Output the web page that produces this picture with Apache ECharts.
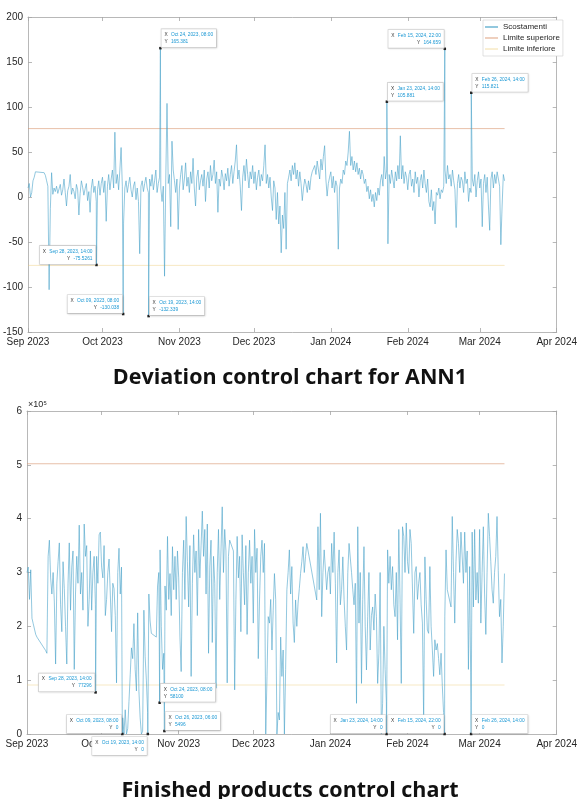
<!DOCTYPE html>
<html><head><meta charset="utf-8">
<script src="https://cdn.jsdelivr.net/npm/echarts@6/dist/echarts.min.js"></script>
<style>html,body{margin:0;padding:0;background:#fff}#c{width:580px;height:799px}</style>
</head><body><div id="c"></div>
<script>
// ---------------- DATA ----------------
const seriesStart = '2023-09-01 00:00';
const stepHours = 12;
const monthTicks = ['2023-09-01','2023-10-01','2023-11-01','2023-12-01','2024-01-01','2024-02-01','2024-03-01','2024-04-01'];
const monthLabels = ['Sep 2023','Oct 2023','Nov 2023','Dec 2023','Jan 2024','Feb 2024','Mar 2024','Apr 2024'];

// Deviation (Scostamenti), one value every 12 h from seriesStart
const deviation = [
 10,15,0,5,18,22,28,null,null,null,
 null,null,null,27,24,18,12,-103,-13,27,
 3,10,6,12,4,9,14,2,8,20,
 5,-10,7,12,25,3,10,6,-2,14,
 8,-20,4,18,11,2,9,15,-4,6,
 -17,10,20,5,12,-5,8,18,2,15,
 22,5,18,-27,12,25,8,20,30,10,
 72,15,25,8,30,55,12,-29,10,18,
 5,14,22,8,0,12,17,-3,10,-5,
 -63,12,18,6,15,22,10,5,20,12,
 25,8,18,30,5,15,22,10,-5,12,
 -88,20,104,15,25,-33,62,30,18,5,
 20,-36,10,25,35,8,20,38,12,22,
 5,28,15,43,10,-10,22,30,8,18,
 25,12,30,-5,20,28,10,35,18,25,
 41,15,28,-17,20,12,30,22,8,26,
 18,32,12,25,35,15,28,40,58,20,
 30,12,-15,22,35,18,42,25,10,28,
 20,35,15,28,8,22,30,12,25,18,
 35,58,15,25,10,22,0,-15,18,10,
 -25,5,-30,-10,-62,-20,-35,5,-58,15,
 22,30,18,35,25,38,20,30,12,28,
 15,-4,10,20,14,5,18,8,22,28,
 30,35,25,40,30,20,42,30,45,57,
 20,1,15,22,28,10,23,5,18,12,
 -58,10,20,15,30,25,40,35,50,73,
 35,45,30,40,28,38,25,32,20,30,
 25,15,20,6,12,-2,8,-5,3,-11,
 5,-4,10,2,18,25,12,45,20,30,
 -52,25,15,30,20,10,28,18,35,20,
 68,20,35,15,28,22,8,25,30,12,
 20,5,28,15,22,0,18,25,10,30,
 15,5,20,-5,-11,8,-15,-5,-30,5,
 2,10,-2,8,5,12,30,15,35,20,
 25,12,30,18,8,-34,15,25,10,22,
 18,5,28,15,20,-5,10,5,20,12,
 25,0,18,28,10,20,-33,15,25,5,
 22,-10,-37,20,28,10,25,15,28,20,
 12,-53,-10,25,18
];
const deviationUpper = 76;
const deviationLower = -76;
const deviationTipTimes = ['2023-09-28 14:00','2023-10-09 08:00','2023-10-19 14:00','2023-10-24 08:00','2024-01-23 14:00','2024-02-15 22:00','2024-02-26 14:00'];
const deviationTipValues = [-75.5261,-130.038,-132.339,165.381,105.881,164.659,115.821];
const deviationYTicks = [-150,-100,-50,0,50,100,150,200];

// Finished products, in thousands of units, one value every 12 h from seriesStart
const productionThousands = [
 300,310,250,305,215,205,195,185,180,null,
 null,null,null,null,null,155,150,330,360,290,
 260,300,245,130,280,320,355,240,190,320,
 270,200,130,280,355,230,310,340,120,260,
 330,280,388,260,300,230,390,330,350,200,
 250,340,230,300,330,240,330,280,370,375,
 310,290,350,220,250,300,325,260,190,280,
 270,220,95,300,345,260,310,30,0,45,
 0,10,60,110,160,140,205,120,80,225,
 80,30,0,5,230,144,100,40,260,210,
 187,null,null,null,180,275,300,342,200,120,
 150,275,230,367,250,298,220,348,268,330,
 250,340,290,180,116,300,360,250,404,320,
 236,350,107,280,370,300,340,220,380,290,
 350,414,330,380,260,390,150,310,360,170,
 330,280,85,300,380,250,340,422,300,380,
 340,95,330,360,null,null,340,82,250,367,
 290,330,190,370,300,240,350,185,300,360,
 280,330,206,380,300,345,140,249,330,360,
 300,354,0,107,218,206,250,156,230,298,
 250,0,40,26,180,107,156,0,120,268,
 300,342,260,311,206,170,249,200,243,270,
 298,320,348,300,330,354,null,null,null,null,
 null,null,null,249,385,268,410,218,300,342,
 342,268,300,311,260,354,300,375,280,132,
 300,342,240,268,329,250,200,156,300,354,
 357,300,268,240,280,57,385,206,300,94,
 250,348,200,119,218,300,156,220,236,193,
 260,218,94,150,300,0,57,200,120,60,
 342,280,330,268,311,240,218,300,175,380,
 250,94,385,367,300,392,320,298,380,354,
 354,187,300,311,250,280,300,240,206,26,
 329,250,193,187,311,200,156,107,175,156,
 168,140,110,150,90,40,218,342,268,null,
 null,236,404,300,206,320,380,354,300,375,
 329,280,375,300,340,120,311,60,375,236,
 380,249,300,243,380,206,300,385,260,185,
 300,410,367,320,268,243,300,330,404,304,
 218,250,132,200,298
];
const productionUpper = 502000;
const productionLower = 91000;
const productionTipTimes = ['2023-09-28 14:00','2023-10-09 08:00','2023-10-19 14:00','2023-10-24 08:00','2023-10-26 06:00','2024-01-23 14:00','2024-02-15 22:00','2024-02-26 14:00'];
const productionTipValues = [77296,0,0,58100,5496,0,0,0];
const productionYTicks = [0,100000,200000,300000,400000,500000,600000];

// ---------------- STYLE / LAYOUT ----------------
const deviationTipSide = ['left','left','right','right','right','left','right'];
const productionTipSide = ['left','left','leftDown','right','right','left','left','right'];
const MON = ['Jan','Feb','Mar','Apr','May','Jun','Jul','Aug','Sep','Oct','Nov','Dec'];
const FONT = 'Liberation Sans';
const AXC = '#a6a6a6';
const LINEC = '#4aa3c9';
const UPC = 'rgba(217,150,110,0.75)';
const LOC = 'rgba(237,205,120,0.55)';

function ts(s){
  const [d,t] = s.split(' ');
  const [y,m,dd] = d.split('-').map(Number);
  const [hh,mm] = (t||'00:00').split(':').map(Number);
  return new Date(y,m-1,dd,hh,mm).getTime();
}
function pad(n){return (n<10?'0':'')+n;}
function tipX(s){
  const d = new Date(ts(s));
  return MON[d.getMonth()]+' '+pad(d.getDate())+', '+d.getFullYear()+', '+pad(d.getHours())+':'+pad(d.getMinutes());
}
function build(values, scale, tipTimes, tipValues){
  const t0 = ts(seriesStart);
  const pts = values.map((v,i)=>[t0+i*stepHours*3600e3, v===null?'-':v*scale]);
  tipTimes.forEach((t,i)=>pts.push([ts(t), tipValues[i]]));
  pts.sort((a,b)=>a[0]-b[0]);
  return pts;
}
const monthTs = monthTicks.map(ts);
const devData = build(deviation, 1, deviationTipTimes, deviationTipValues);
const prodData = build(productionThousands, 1000, productionTipTimes, productionTipValues);
const tFirst = devData[0][0];
const tLastDev = devData[devData.length-1][0];
const tLastProd = prodData[prodData.length-1][0];

function tipLabel(side){
  const base = {
    show:true, position:[1.25,1.25], backgroundColor:'#fff', borderColor:'#cdcdcd', borderWidth:0.6,
    padding:[2,3,2,3], lineHeight:7, fontFamily:FONT,
    shadowColor:'rgba(0,0,0,0.12)', shadowBlur:2, shadowOffsetX:0.5, shadowOffsetY:0.5,
    rich:{k:{color:'#333',fontSize:4.8,fontFamily:FONT,lineHeight:7},v:{color:'#1b98d4',fontSize:4.8,fontFamily:FONT,lineHeight:7}}
  };
  if(side==='left'){ base.align='right'; base.verticalAlign='bottom'; base.offset=[-1,-1]; }
  else if(side==='right'){ base.align='left'; base.verticalAlign='bottom'; base.offset=[1,-1]; }
  else { base.align='right'; base.verticalAlign='top'; base.offset=[-1,3]; }
  return base;
}
function tips(times, values, sides){
  return times.map((t,i)=>{
    const lab = tipLabel(sides[i]);
    lab.formatter = '{k|X} {v|'+tipX(t)+'}\n{k|Y} {v|'+values[i]+'}';
    return {coord:[ts(t), values[i]], value: values[i], label: lab};
  });
}

const grids = [
  {left:26, top:17, width:537, height:315},
  {left:27, top:411, width:534, height:323}
];

function xAxes(gi){
  const common = {type:'value', gridIndex:gi, min:monthTs[0], max:monthTs[monthTs.length-1],
    splitLine:{show:false}};
  return [
    Object.assign({}, common, {position:'bottom',
      axisLine:{onZero:false, lineStyle:{color:AXC,width:0.8}},
      axisTick:{inside:true,length:4,customValues:monthTs,lineStyle:{color:AXC,width:0.8}},
      axisLabel:{customValues:monthTs, showMinLabel:true, showMaxLabel:true, hideOverlap:false,
        formatter:(v)=>{const i=monthTs.indexOf(v); return i<0?'':monthLabels[i];}, color:'#262626', fontSize:10, fontFamily:FONT, margin:5}}),
    Object.assign({}, common, {position:'top',
      axisLine:{onZero:false, lineStyle:{color:AXC,width:0.8}},
      axisTick:{inside:true,length:4,customValues:monthTs,lineStyle:{color:AXC,width:0.8}},
      axisLabel:{show:false}})
  ];
}
function yAxes(gi, ticks, fmt, name){
  const common = {type:'value', gridIndex:gi, min:ticks[0], max:ticks[ticks.length-1], interval:ticks[1]-ticks[0],
    splitLine:{show:false}, axisLine:{show:true, onZero:false, lineStyle:{color:AXC,width:0.8}},
    axisTick:{show:true, inside:true, length:4, lineStyle:{color:AXC,width:0.8}}};
  const left = Object.assign({}, common, {position:'left',
    axisLabel:{formatter:fmt, color:'#262626', fontSize:10, fontFamily:FONT, margin:5}});
  if(name){
    left.name = name; left.nameLocation='end'; left.nameGap=2;
    left.nameTextStyle = {align:'left', verticalAlign:'bottom', color:'#262626', fontSize:9, fontFamily:FONT, padding:[0,0,0,1]};
  }
  const right = Object.assign({}, common, {position:'right', axisLabel:{show:false}});
  return [left, right];
}

const titleStyle = {fontSize:21.5, fontWeight:'bold', fontFamily:'Open Sans', color:'#111'};
const option = {
  animation:false,
  backgroundColor:'#fff',
  title:[
    {text:'Deviation control chart for ANN1', left:'center', top:367, padding:0, textStyle:titleStyle},
    {text:'Finished products control chart', left:'center', top:780, padding:0, textStyle:titleStyle}
  ],
  legend:{
    data:['Scostamenti','Limite superiore','Limite inferiore'],
    orient:'vertical', left:483, top:20, icon:'rect', itemWidth:13, itemHeight:1.2, itemGap:3,
    textStyle:{fontSize:8, color:'#262626', fontFamily:FONT},
    backgroundColor:'#fff', borderColor:'#cdcdcd', borderWidth:0.6, padding:[3,3,3,2]
  },
  grid:grids,
  xAxis:[...xAxes(0), ...xAxes(1)],
  yAxis:[...yAxes(0, deviationYTicks, (v)=>String(v)), ...yAxes(1, productionYTicks, (v)=>String(v/100000), '×10⁵')],
  series:[
    {name:'Scostamenti', type:'line', xAxisIndex:0, yAxisIndex:0, data:devData, showSymbol:false, connectNulls:true,
     color:LINEC, lineStyle:{color:LINEC,width:0.6}, z:3,
     markPoint:{symbol:'rect', symbolSize:2.5, itemStyle:{color:'#222'}, data:tips(deviationTipTimes, deviationTipValues, deviationTipSide)}},
    {name:'Limite superiore', type:'line', xAxisIndex:0, yAxisIndex:0, data:[[tFirst,deviationUpper],[tLastDev,deviationUpper]],
     showSymbol:false, color:UPC, lineStyle:{color:UPC,width:0.8}, z:2},
    {name:'Limite inferiore', type:'line', xAxisIndex:0, yAxisIndex:0, data:[[tFirst,deviationLower],[tLastDev,deviationLower]],
     showSymbol:false, color:LOC, lineStyle:{color:LOC,width:0.8}, z:2},
    {name:'Prodotti finiti', type:'line', xAxisIndex:2, yAxisIndex:2, data:prodData, showSymbol:false, connectNulls:true,
     color:LINEC, lineStyle:{color:LINEC,width:0.6}, z:3,
     markPoint:{symbol:'rect', symbolSize:2.5, itemStyle:{color:'#222'}, data:tips(productionTipTimes, productionTipValues, productionTipSide)}},
    {name:'Limite superiore prodotti', type:'line', xAxisIndex:2, yAxisIndex:2, data:[[tFirst,productionUpper],[tLastProd,productionUpper]],
     showSymbol:false, color:UPC, lineStyle:{color:UPC,width:0.8}, z:2},
    {name:'Limite inferiore prodotti', type:'line', xAxisIndex:2, yAxisIndex:2, data:[[tFirst,productionLower],[tLastProd,productionLower]],
     showSymbol:false, color:LOC, lineStyle:{color:LOC,width:0.8}, z:2}
  ]
};
const chart = echarts.init(document.getElementById('c'), null, {renderer:'canvas'});
chart.setOption(option);
</script></body></html>
